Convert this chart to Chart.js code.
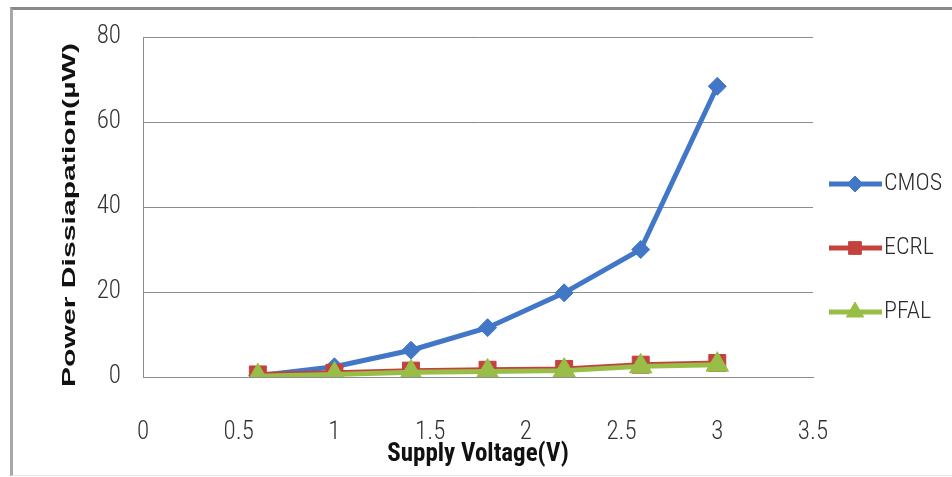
<!DOCTYPE html>
<html>
<head>
<meta charset="utf-8">
<script src="https://cdn.jsdelivr.net/npm/chart.js@4.4.1/dist/chart.umd.min.js"></script>
<style>
  html, body { margin: 0; padding: 0; background: #fff; }
  #wrap { position: relative; width: 952px; height: 477px; overflow: hidden; }
  #frame { position: absolute; left: 10px; top: 7px; width: 1000px; height: 465px;
           border-top: 3px solid #8a8a8a; border-left: 3px solid #a8a8a8; border-bottom: 1px solid #e6e6e6; }
  canvas { position: absolute; left: 0; top: 0; }
</style>
</head>
<body>
<div id="wrap">
  <div id="frame"></div>
  <canvas id="c" width="952" height="477"></canvas>
</div>
<script>
// Supply voltage sweep (V) and power dissipation (µW) per logic style
const voltage = [0.6, 1, 1.4, 1.8, 2.2, 2.6, 3];
const cmos    = [0.3, 2.4, 6.3, 11.6, 19.8, 30.0, 68.4];
const ecrl    = [0.6, 1.0, 1.5, 1.7, 1.9, 2.9, 3.3];
const pfal    = [0.2, 0.6, 1.1, 1.3, 1.5, 2.5, 2.9];

const seriesNames = ['CMOS', 'ECRL', 'PFAL'];
const xTicks = [0, 0.5, 1, 1.5, 2, 2.5, 3, 3.5];
const yTicks = [0, 20, 40, 60, 80];
const xTitle = 'Supply Voltage(V)';
const yTitle = 'Power Dissiapation(\u00b5W)';

const NARROW = '"Roboto Condensed", "DejaVu Sans Condensed", "Liberation Sans Narrow", Roboto, sans-serif';
const colors = ['#4177C6', '#C4423E', '#98BE48'];
const styles = ['rectRot', 'rect', 'triangle'];
const radii  = [9, 12, 13];

const toPoints = vals => voltage.map((v, i) => ({ x: v, y: vals[i] }));
const seriesValues = [cmos, ecrl, pfal];

const datasets = seriesNames.map((name, i) => ({
  label: name,
  data: toPoints(seriesValues[i]),
  borderColor: colors[i],
  backgroundColor: colors[i],
  borderWidth: 5,
  pointStyle: styles[i],
  pointRadius: radii[i],
  pointBorderWidth: 1,
  pointBackgroundColor: colors[i],
  pointBorderColor: colors[i],
  tension: 0,
  order: 3 - i          // PFAL on top, CMOS underneath
}));

// Rotated y title and the right-hand legend
const sideText = {
  id: 'sideText',
  afterDraw(chart) {
    const ctx = chart.ctx;

    ctx.save();
    ctx.font = 'bold 19px "Liberation Sans", Arial, sans-serif';
    const w = ctx.measureText(yTitle).width;
    ctx.translate(70, 215);
    ctx.rotate(-Math.PI / 2);
    ctx.scale(344 / w, 1);
    ctx.fillStyle = '#111';
    ctx.textAlign = 'center';
    ctx.textBaseline = 'middle';
    ctx.fillText(yTitle, 0, 0);
    ctx.restore();

    chart.data.datasets.forEach((ds, i) => {
      const y = 184 + 64 * i;
      ctx.save();
      ctx.strokeStyle = ds.borderColor;
      ctx.lineWidth = 5;
      ctx.beginPath();
      ctx.moveTo(829, y);
      ctx.lineTo(882, y);
      ctx.stroke();
      ctx.fillStyle = ds.borderColor;
      ctx.strokeStyle = ds.borderColor;
      ctx.lineWidth = 1;
      Chart.helpers.drawPoint(ctx, {
        pointStyle: ds.pointStyle, rotation: 0,
        radius: [8, 9, 10][i], borderWidth: 1
      }, 855, y);
      ctx.fillStyle = '#2a2a2a';
      ctx.font = '300 24px ' + NARROW;
      ctx.textAlign = 'left';
      ctx.textBaseline = 'middle';
      ctx.fillText(ds.label, 884, y);
      ctx.restore();
    });
  }
};

new Chart(document.getElementById('c'), {
  type: 'line',
  data: { datasets },
  plugins: [sideText],
  options: {
    responsive: false,
    animation: false,
    devicePixelRatio: 1,
    layout: { padding: { top: 33, right: 139, bottom: 0, left: 0 } },
    plugins: { legend: { display: false }, tooltip: { enabled: false } },
    scales: {
      x: {
        type: 'linear',
        min: 0, max: 3.5,
        afterBuildTicks: s => { s.ticks = xTicks.map(v => ({ value: v })); },
        afterFit: s => { s.height = 100; },
        grid: { display: false, drawTicks: false },
        border: { display: true, color: '#8c8c8c', width: 1 },
        ticks: {
          padding: 41,
          color: '#333',
          font: { family: NARROW, size: 25, weight: 300 },
          callback: v => String(v)
        },
        title: {
          display: true, text: xTitle, color: '#111',
          font: { family: NARROW, size: 25, weight: 'bold' },
          padding: { top: 0, bottom: 7 }
        }
      },
      y: {
        type: 'linear',
        min: 0, max: 80,
        afterBuildTicks: s => { s.ticks = yTicks.map(v => ({ value: v })); },
        afterFit: s => { s.width = 143; },
        grid: { color: '#8c8c8c', lineWidth: 1, drawTicks: false },
        border: { display: true, color: '#8c8c8c', width: 1 },
        ticks: {
          padding: 22,
          color: '#333',
          font: { family: NARROW, size: 25, weight: 300 },
          callback: v => String(v)
        }
      }
    }
  }
});
</script>
</body>
</html>
